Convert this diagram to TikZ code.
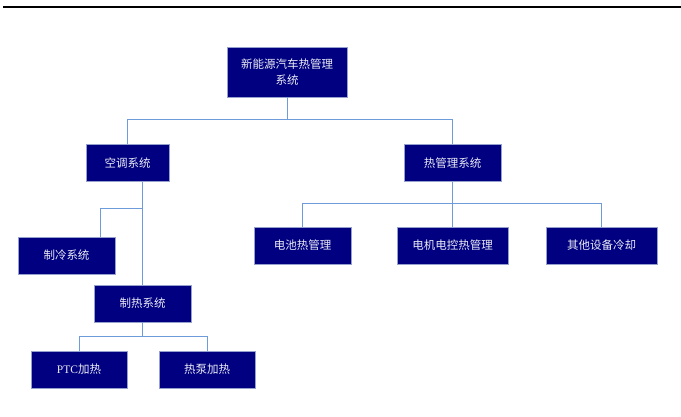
\documentclass[tikz,border=0pt]{standalone}
\usepackage{fontspec}
\setmainfont{Liberation Serif}
\newfontfamily\cjk{Noto Sans CJK SC}
\usetikzlibrary{calc}

\definecolor{boxfill}{RGB}{0,0,128}
\definecolor{boxline}{RGB}{150,160,205}
\definecolor{linkcol}{RGB}{110,155,218}
\definecolor{boxtext}{RGB}{235,235,245}

\begin{document}
\begin{tikzpicture}[x=1pt,y=-1pt]
\tikzstyle{every node}+=[inner sep=0pt]
\tikzstyle{sysbox}=[draw=boxline,line width=0.6pt,fill=boxfill,text=boxtext,
  font=\fontsize{11.5}{16}\selectfont\cjk,align=center,minimum height=37pt]
\tikzstyle{link}=[linkcol,line width=1pt]
\useasboundingbox (0,0) rectangle (681,417);
% rule at top of page
\draw [black,line width=2.5pt] (3,7) -- (681,7);
% boxes
\node [sysbox,minimum width=120pt,minimum height=50pt] (top) at (287,72) {新能源汽车热管理\\系统};
\node [sysbox,minimum width=83pt] (kt) at (127.5,163) {空调系统};
\node [sysbox,minimum width=97pt] (rm) at (452.5,163) {热管理系统};
\node [sysbox,minimum width=97pt] (zl) at (66.5,255.5) {制冷系统};
\node [sysbox,minimum width=97pt] (zr) at (142.5,303.5) {制热系统};
\node [sysbox,minimum width=96pt] (ptc) at (79,369.5) {{\rmfamily PTC}加热};
\node [sysbox,minimum width=96pt] (rb) at (207,369.5) {热泵加热};
\node [sysbox,minimum width=97pt] (dc) at (302.5,245.5) {电池热管理};
\node [sysbox,minimum width=111pt] (dj) at (452.5,245.5) {电机电控热管理};
\node [sysbox,minimum width=111pt] (qt) at (601.5,245.5) {其他设备冷却};
% connectors
\coordinate (bus1) at (287,120);
\draw [link] (top.south) -- (bus1) -| (kt.north);
\draw [link] (bus1) -| (rm.north);
\draw [link] (zr.north |- kt.south) -- (zr.north);
\coordinate (bus2) at (142,209);
\draw [link] (bus2) -| ($(zl.north)!0.69!(zl.north east)$);
\coordinate (bus3) at (142.5,336);
\draw [link] (zr.south) -- (bus3);
\draw [link] (bus3) -| (ptc.north);
\draw [link] (bus3) -| (rb.north);
\coordinate (bus4) at (452.5,204);
\draw [link] (rm.south) -- (bus4);
\draw [link] (bus4) -| (dc.north);
\draw [link] (bus4) -| (qt.north);
\draw [link] (bus4) -- (dj.north);
\end{tikzpicture}
\end{document}
